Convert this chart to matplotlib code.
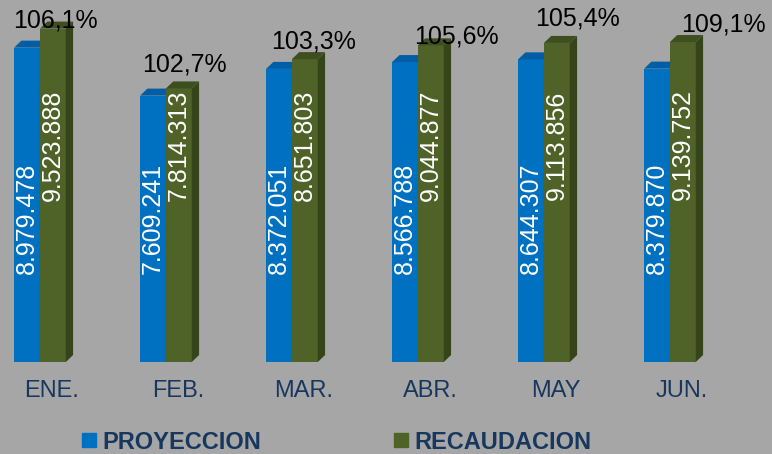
import numpy as np
import matplotlib.pyplot as plt
from matplotlib.patches import Polygon
from matplotlib.lines import Line2D

plt.rcParams['font.family'] = ['Liberation Sans', 'DejaVu Sans']

# data
meses = ['ENE.', 'FEB.', 'MAR.', 'ABR.', 'MAY', 'JUN.']
proyeccion = [8979478, 7609241, 8372051, 8566788, 8644307, 8379870]
recaudacion = [9523888, 7814313, 8651803, 9044877, 9113856, 9139752]
porcentaje = ['106,1%', '102,7%', '103,3%', '105,6%', '105,4%', '109,1%']

def fmt(v):
    return '{:,}'.format(v).replace(',', '.')

# colours
bg = '#A6A6A6'
navy = '#17375E'
blue = ['#0070C0', '#005EA6', '#00559A']
green = ['#4F6228', '#3E4E1F', '#36441A']

fig = plt.figure(figsize=(7.72, 4.54), dpi=100, facecolor=bg)
ax = fig.add_axes([0, 0.2026, 1, 0.7974])
ax.set_facecolor(bg)

x = np.arange(len(meses))
w = 0.205          # bar width
dx = 0.058         # 3d depth (x)
dy = 0.2e6         # 3d depth (y)

def bar3d(xl, h, cols):
    ax.add_patch(plt.Rectangle((xl, 0), w, h, color=cols[0], lw=0))
    ax.add_patch(Polygon([(xl, h), (xl + dx, h + dy), (xl + w + dx, h + dy), (xl + w, h)],
                         closed=True, color=cols[1], lw=0))
    ax.add_patch(Polygon([(xl + w, 0), (xl + w + dx, dy), (xl + w + dx, h + dy), (xl + w, h)],
                         closed=True, color=cols[2], lw=0))

for i in x:
    bar3d(i - w, proyeccion[i], blue)
    bar3d(i, recaudacion[i], green)
    ax.text(i - w / 2, 4.1e6, fmt(proyeccion[i]), rotation=90, color='white',
            fontsize=18, ha='center', va='center')
    ax.text(i + w / 2, 6.2e6, fmt(recaudacion[i]), rotation=90, color='white',
            fontsize=18, ha='center', va='center')

# percentage labels (hand placed in the original)
off_x = [2.5, 5.5, 8.5, 25.5, 20.5, 40.5]
off_y = [8, 24, 18, 9, 24, 18]
for i in x:
    ax.annotate(porcentaje[i], (i + w / 2, recaudacion[i]), xytext=(off_x[i], off_y[i]),
                textcoords='offset pixels', ha='center', va='center', fontsize=18,
                color='black', annotation_clip=False)

ax.set_xlim(-0.317, 5.81)
ax.set_ylim(0, 10.34e6)
ax.set_xticks(x + 0.095)
ax.set_xticklabels(meses, fontsize=17, color=navy)
ax.tick_params(axis='x', length=0, pad=13)
ax.set_yticks([])
for s in ax.spines.values():
    s.set_visible(False)

handles = [Line2D([], [], ls='', marker='s', ms=9.5, color=blue[0]),
           Line2D([], [], ls='', marker='s', ms=9.5, color=green[0])]
fig.legend(handles, ['PROYECCION', 'RECAUDACION'], ncol=2, frameon=False,
           loc='center left', bbox_to_anchor=(70 / 772, 0.026), borderpad=0,
           handlelength=0.6, handletextpad=0.25, columnspacing=5.65,
           prop={'size': 17, 'weight': 'bold'}, labelcolor=navy)

plt.savefig('out.png', dpi=100, facecolor=bg)
